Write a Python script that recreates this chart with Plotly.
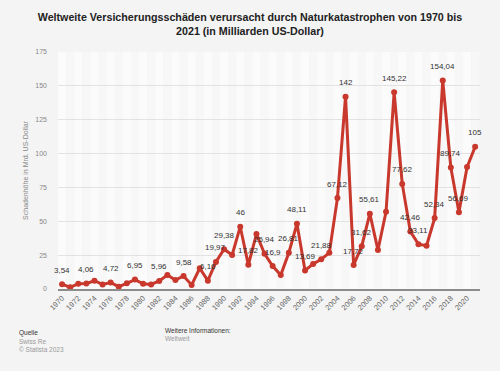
import plotly.graph_objects as go

years = list(range(1970, 2022))
values = [3.54, 1.2, 3.9, 4.06, 6.1, 3.4, 4.72, 1.7, 4.2, 6.95,
          3.9, 3.4, 5.96, 10.3, 6.6, 9.58, 3.0, 15.3, 6.16, 19.97,
          29.38, 25.1, 46.0, 17.82, 40.6, 25.94, 16.9, 10.3, 26.81, 48.11,
          13.69, 18.5, 21.88, 26.8, 67.12, 142.0, 17.72, 31.62, 55.61, 28.8,
          57.0, 145.22, 77.62, 42.46, 33.11, 32.0, 52.34, 154.04, 89.74, 56.69,
          90.0, 105.0]
labels = {1970: "3,54", 1973: "4,06", 1976: "4,72", 1979: "6,95", 1982: "5,96",
          1985: "9,58", 1988: "6,16", 1989: "19,97", 1990: "29,38", 1992: "46",
          1993: "17,82", 1995: "25,94", 1996: "16,9", 1998: "26,81", 1999: "48,11",
          2000: "13,69", 2002: "21,88", 2004: "67,12", 2005: "142", 2006: "17,72",
          2007: "31,62", 2008: "55,61", 2011: "145,22", 2012: "77,62", 2013: "42,46",
          2014: "33,11", 2016: "52,34", 2017: "154,04", 2018: "89,74", 2019: "56,69",
          2021: "105"}
y_ticks = [0, 25, 50, 75, 100, 125, 150, 175]
x_ticks = list(range(1970, 2021, 2))

FONT = "Liberation Sans, Arial, sans-serif"
RED = "#c9382c"

fig = go.Figure()
fig.add_trace(go.Scatter(
    x=years, y=values, mode="lines+markers",
    line=dict(color=RED, width=3),
    marker=dict(color=RED, size=6),
    hoverinfo="x+y", showlegend=False,
))

shapes = []
for yr in range(1970, 2022, 2):
    shapes.append(dict(type="rect", xref="x", yref="paper", x0=yr - 0.5, x1=yr + 0.5,
                       y0=0, y1=1, fillcolor="#fbfbfb", line=dict(width=0), layer="below"))
    shapes.append(dict(type="rect", xref="x", yref="paper", x0=yr + 0.5, x1=yr + 1.5,
                       y0=0, y1=1, fillcolor="#f7f7f7", line=dict(width=0), layer="below"))
fig.update_layout(shapes=shapes)

for yr, v in zip(years, values):
    if yr in labels:
        fig.add_annotation(
            x=yr, y=v, xref="x", yref="y", text=labels[yr], showarrow=False,
            yshift=14, xanchor="center", yanchor="middle",
            font=dict(family=FONT, size=8, color="#333333"),
        )

fig.update_layout(
    width=500, height=371,
    paper_bgcolor="#f4f4f4", plot_bgcolor="#f4f4f4",
    margin=dict(l=58, r=20, t=52, b=82),
    font=dict(family=FONT, color="#666666"),
    title=dict(
        text="<b>Weltweite Versicherungsschäden verursacht durch Naturkatastrophen von 1970 bis<br>2021 (in Milliarden US-Dollar)</b>",
        x=0.5, xanchor="center", y=0.943, yanchor="top",
        font=dict(family=FONT, size=10.7, color="#222222"),
    ),
    xaxis=dict(
        range=[1969.5, 2021.6], tickmode="array", tickvals=x_ticks,
        ticktext=[str(t) for t in x_ticks], tickangle=-45,
        tickfont=dict(size=7.5, color="#666666"),
        showgrid=False, zeroline=False,
        showline=True, linecolor="#8c8c8c", linewidth=2,
        ticks="", fixedrange=True,
    ),
    yaxis=dict(
        range=[0, 175], tickmode="array", tickvals=y_ticks,
        tickfont=dict(size=7, color="#888888"),
        showgrid=True, gridcolor="#e2e2e2", gridwidth=1,
        zeroline=False, showline=False, ticks="", ticklabelstandoff=10,
        automargin=True,
        title=dict(text="Schadenhöhe in Mrd. US-Dollar", font=dict(size=7, color="#888888"), standoff=5),
        fixedrange=True,
    ),
)

annos = [
    dict(text="Quelle", x=17, y=333, color="#333333"),
    dict(text="Swiss Re", x=17, y=341, color="#999999"),
    dict(text="© Statista 2023", x=17, y=349, color="#999999"),
    dict(text="Weitere Informationen:", x=163, y=330, color="#333333"),
    dict(text="Weltweit", x=163, y=338, color="#999999"),
]
plot_h = 371 - 52 - 82
plot_w = 500 - 58 - 20
for a in annos:
    fig.add_annotation(
        text=a["text"], showarrow=False, xref="paper", yref="paper",
        x=(a["x"] - 58) / plot_w, y=(371 - 82 - a["y"]) / plot_h,
        xanchor="left", yanchor="middle",
        font=dict(family=FONT, size=6.5, color=a["color"]),
    )

fig.write_html("out.html", config={"displayModeBar": False},
               post_script="document.body.style.margin='0';document.body.style.background='#f4f4f4';")
